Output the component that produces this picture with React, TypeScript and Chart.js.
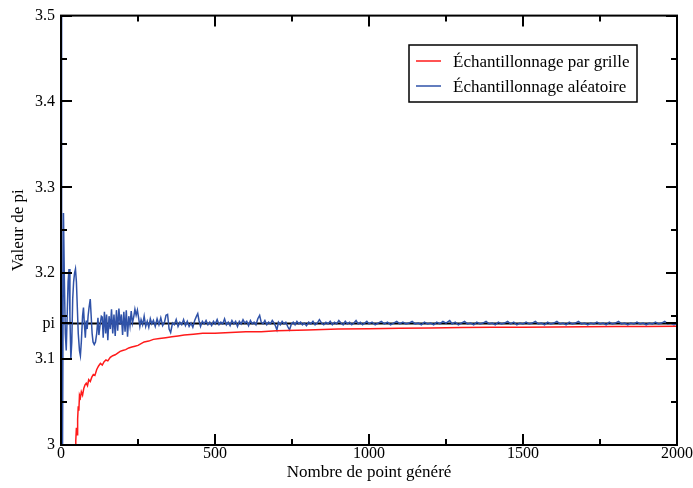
import React, { useEffect, useRef } from 'react';
import { Chart, registerables } from 'chart.js';

Chart.register(...registerables);

const PI = 3.14159265;
const xTicks = [0, 500, 1000, 1500, 2000];
const xMinor = [250, 750, 1250, 1750];
const yTicks = [3, 3.1, PI, 3.2, 3.3, 3.4, 3.5];
const yTickLabels = ['3', '3.1', 'pi', '3.2', '3.3', '3.4', '3.5'];
const yMinor = [3.05, 3.15, 3.25, 3.35, 3.45];
const seriesNames = ['Échantillonnage par grille', 'Échantillonnage aléatoire'];
const xTitle = 'Nombre de point généré';
const yTitle = 'Valeur de pi';

const redN = [46, 48, 50, 52, 54, 56, 58, 60, 63, 66, 70, 74, 78, 82, 86, 90, 95, 100, 105, 110, 116, 122, 128, 134, 140, 146, 152, 160, 168, 176, 184, 192, 200, 210, 220, 230, 240, 250, 260, 270, 285, 300, 320, 340, 360, 380, 400, 430, 460, 500, 550, 600, 650, 700, 800, 900, 1000, 1100, 1200, 1300, 1400, 1500, 1600, 1700, 1800, 1900, 2000];
const redV = [2.99, 3.005, 3.02, 3.012, 3.03, 3.045, 3.04, 3.058, 3.055, 3.062, 3.058, 3.066, 3.07, 3.072, 3.069, 3.076, 3.074, 3.079, 3.082, 3.081, 3.088, 3.092, 3.095, 3.093, 3.097, 3.099, 3.098, 3.102, 3.104, 3.105, 3.107, 3.109, 3.11, 3.111, 3.113, 3.114, 3.115, 3.116, 3.118, 3.12, 3.121, 3.123, 3.124, 3.125, 3.126, 3.127, 3.128, 3.129, 3.13, 3.13, 3.131, 3.132, 3.132, 3.133, 3.134, 3.135, 3.1355, 3.136, 3.1363, 3.1367, 3.137, 3.1372, 3.1375, 3.1377, 3.1379, 3.138, 3.1382];

const blueN = [1, 2, 5, 8, 11, 14, 17, 20, 23, 26, 29, 32, 35, 38, 41, 44, 47, 50, 53, 56, 60, 63, 66, 70, 73, 76, 79, 82, 85, 88, 91, 95, 98, 101, 104, 108, 112, 116, 120, 123, 127, 131, 134, 137, 141, 145, 148, 152, 156, 160, 164, 168, 172, 176, 180, 184, 188, 192, 196, 200, 204, 208, 212, 216, 220, 224, 228, 232, 236, 240, 244, 248, 252, 256, 260, 265, 270, 275, 280, 285, 290, 295, 300, 306, 312, 318, 324, 330, 336, 341, 346, 351, 356, 362, 368, 374, 380, 386, 392, 398, 404, 410, 416, 422, 428, 434, 440, 444, 448, 453, 459, 465, 471, 477, 483, 489, 495, 501, 507, 513, 519, 525, 531, 537, 543, 549, 555, 561, 567, 573, 579, 585, 591, 597, 603, 609, 615, 621, 627, 633, 639, 645, 650, 656, 662, 668, 674, 680, 686, 692, 697, 701, 706, 712, 718, 724, 730, 736, 742, 748, 754, 760, 766, 772, 778, 784, 790, 797, 804, 811, 818, 825, 832, 839, 846, 853, 860, 867, 874, 881, 888, 895, 902, 909, 916, 923, 930, 937, 944, 951, 958, 965, 972, 979, 986, 993, 1000, 1010, 1020, 1030, 1040, 1050, 1060, 1070, 1080, 1090, 1100, 1110, 1120, 1130, 1140, 1150, 1160, 1170, 1180, 1190, 1200, 1210, 1220, 1230, 1240, 1250, 1262, 1270, 1280, 1290, 1300, 1310, 1320, 1330, 1340, 1350, 1360, 1370, 1380, 1390, 1400, 1410, 1420, 1430, 1440, 1450, 1460, 1470, 1480, 1490, 1500, 1510, 1520, 1530, 1540, 1550, 1560, 1570, 1580, 1590, 1600, 1610, 1620, 1630, 1640, 1650, 1660, 1670, 1680, 1690, 1700, 1710, 1720, 1730, 1740, 1750, 1760, 1770, 1780, 1790, 1800, 1810, 1820, 1830, 1840, 1850, 1860, 1870, 1880, 1890, 1900, 1910, 1920, 1930, 1940, 1950, 1960, 1970, 1980, 1990, 2000];
const blueV = [4.0, 2.0, 3.0, 3.27, 3.19, 3.13, 3.11, 3.15, 3.19, 3.205, 3.15, 3.10, 3.12, 3.17, 3.19, 3.2, 3.205, 3.19, 3.16, 3.13, 3.11, 3.104, 3.12, 3.15, 3.16, 3.14, 3.125, 3.145, 3.135, 3.15, 3.16, 3.17, 3.15, 3.13, 3.12, 3.117, 3.12, 3.13, 3.148, 3.128, 3.14, 3.15, 3.149, 3.125, 3.155, 3.13, 3.152, 3.122, 3.15, 3.135, 3.158, 3.13, 3.152, 3.127, 3.157, 3.133, 3.159, 3.14, 3.152, 3.128, 3.155, 3.132, 3.157, 3.126, 3.15, 3.139, 3.156, 3.142, 3.149, 3.158, 3.151, 3.157, 3.148, 3.138, 3.146, 3.14, 3.15, 3.138, 3.144, 3.137, 3.147, 3.141, 3.145, 3.138, 3.147, 3.14, 3.148, 3.139, 3.143, 3.151, 3.152, 3.135, 3.131, 3.142, 3.14, 3.146, 3.138, 3.143, 3.14, 3.146, 3.139, 3.144, 3.138, 3.142, 3.137, 3.145, 3.15, 3.153, 3.145, 3.138, 3.144, 3.141, 3.145, 3.14, 3.143, 3.139, 3.144, 3.141, 3.146, 3.14, 3.143, 3.141, 3.147, 3.14, 3.143, 3.139, 3.145, 3.141, 3.144, 3.138, 3.144, 3.141, 3.146, 3.142, 3.144, 3.139, 3.145, 3.141, 3.143, 3.14, 3.147, 3.151, 3.143, 3.141, 3.145, 3.14, 3.143, 3.141, 3.145, 3.142, 3.138, 3.134, 3.143, 3.14, 3.144, 3.141, 3.143, 3.138, 3.134, 3.141, 3.143, 3.14, 3.144, 3.141, 3.143, 3.14, 3.142, 3.139, 3.143, 3.141, 3.144, 3.14, 3.142, 3.146, 3.142, 3.14, 3.143, 3.141, 3.144, 3.14, 3.143, 3.141, 3.145, 3.142, 3.14, 3.144, 3.141, 3.143, 3.14, 3.142, 3.145, 3.141, 3.143, 3.14, 3.142, 3.144, 3.141, 3.143, 3.14, 3.142, 3.144, 3.141, 3.143, 3.14, 3.142, 3.144, 3.141, 3.143, 3.141, 3.142, 3.144, 3.141, 3.142, 3.14, 3.143, 3.141, 3.142, 3.14, 3.143, 3.141, 3.144, 3.142, 3.145, 3.141, 3.143, 3.14, 3.142, 3.144, 3.141, 3.142, 3.14, 3.143, 3.141, 3.142, 3.144, 3.141, 3.142, 3.14, 3.143, 3.141, 3.142, 3.144, 3.141, 3.143, 3.14, 3.142, 3.141, 3.143, 3.141, 3.142, 3.144, 3.141, 3.142, 3.14, 3.143, 3.141, 3.142, 3.144, 3.141, 3.142, 3.14, 3.143, 3.141, 3.142, 3.144, 3.141, 3.142, 3.14, 3.142, 3.141, 3.143, 3.141, 3.142, 3.14, 3.143, 3.141, 3.142, 3.144, 3.141, 3.142, 3.14, 3.142, 3.141, 3.143, 3.141, 3.142, 3.14, 3.142, 3.141, 3.143, 3.141, 3.142, 3.144, 3.141, 3.142, 3.14, 3.142];

const piN = [0, 2000];
const piV = [PI, PI];

const RED = '#ff1a1a';
const BLUE = '#2f52a8';
const SERIF = '"Liberation Serif", "DejaVu Serif", serif';

const framePlugin = {
  id: 'frameTicks',
  afterDatasetsDraw(chart: any) {
    const { ctx, chartArea, scales } = chart;
    const { left, right, top, bottom } = chartArea;
    const xs = scales.x;
    const ys = scales.y;
    ctx.save();
    ctx.strokeStyle = '#000';
    ctx.lineWidth = 2;
    ctx.strokeRect(left, top, right - left, bottom - top);
    const major = 11;
    const minor = 6;
    ctx.beginPath();
    const xt = (v: number, len: number) => {
      const p = Math.round(xs.getPixelForValue(v));
      ctx.moveTo(p, bottom); ctx.lineTo(p, bottom - len);
      ctx.moveTo(p, top); ctx.lineTo(p, top + len);
    };
    const yt = (v: number, len: number) => {
      const p = Math.round(ys.getPixelForValue(v));
      ctx.moveTo(left, p); ctx.lineTo(left + len, p);
      ctx.moveTo(right, p); ctx.lineTo(right - len, p);
    };
    xTicks.forEach((v) => xt(v, major));
    xMinor.forEach((v) => xt(v, minor));
    yTicks.forEach((v) => yt(v, major));
    yMinor.forEach((v) => yt(v, minor));
    ctx.stroke();
    ctx.restore();
  },
};

const legendPlugin = {
  id: 'insideLegend',
  afterDraw(chart: any) {
    const { ctx } = chart;
    ctx.save();
    const bx = 409, by = 45, bw = 228, bh = 57;
    ctx.fillStyle = '#fff';
    ctx.fillRect(bx, by, bw, bh);
    ctx.strokeStyle = '#000';
    ctx.lineWidth = 1.5;
    ctx.strokeRect(bx, by, bw, bh);
    const colors = [RED, BLUE];
    ctx.font = '17px ' + SERIF;
    ctx.textBaseline = 'middle';
    seriesNames.forEach((name, i) => {
      const y = by + 16 + i * 25;
      ctx.strokeStyle = colors[i];
      ctx.lineWidth = 1.5;
      ctx.beginPath();
      ctx.moveTo(bx + 7, y);
      ctx.lineTo(bx + 32, y);
      ctx.stroke();
      ctx.fillStyle = '#000';
      ctx.fillText(name, bx + 44, y + 1.5);
    });
    ctx.restore();
  },
};

export default function App() {
  const ref = useRef<HTMLCanvasElement>(null);
  useEffect(() => {
    if (!ref.current) return;
    const tickFont = { family: SERIF, size: 16 };
    const titleFont = { family: SERIF, size: 17 };
    const chart = new Chart(ref.current, {
      type: 'line',
      data: {
        datasets: [
          {
            label: seriesNames[0],
            data: redN.map((n, i) => ({ x: n, y: redV[i] })),
            borderColor: RED,
            borderWidth: 1.5,
            pointRadius: 0,
            tension: 0,
          },
          {
            label: seriesNames[1],
            data: blueN.map((n, i) => ({ x: n, y: blueV[i] })),
            borderColor: BLUE,
            borderWidth: 1.5,
            pointRadius: 0,
            tension: 0,
          },
          {
            label: 'pi',
            data: piN.map((n, i) => ({ x: n, y: piV[i] })),
            borderColor: '#000',
            borderWidth: 2,
            pointRadius: 0,
            tension: 0,
          },
        ],
      },
      options: {
        animation: false,
        responsive: false,
        events: [],
        layout: { padding: { top: 14, right: 16, left: 0, bottom: 0 } },
        plugins: { legend: { display: false }, tooltip: { enabled: false } },
        scales: {
          x: {
            type: 'linear',
            min: 0,
            max: 2000,
            afterBuildTicks: (s: any) => { s.ticks = xTicks.map((v) => ({ value: v })); },
            afterFit: (s: any) => { s.height = 43; },
            border: { display: false },
            grid: { display: false, drawTicks: false },
            ticks: { color: '#000', font: tickFont, padding: -1, maxRotation: 0, autoSkip: false, callback: (v: any) => String(v) },
            title: { display: true, text: xTitle, color: '#000', font: titleFont, padding: { top: 5, bottom: 5 } },
          },
          y: {
            type: 'linear',
            min: 3,
            max: 3.5,
            afterBuildTicks: (s: any) => { s.ticks = yTicks.map((v) => ({ value: v })); },
            afterFit: (s: any) => { s.width = 61; },
            border: { display: false },
            grid: { display: false, drawTicks: false },
            ticks: { color: '#000', font: tickFont, padding: 6, autoSkip: false, callback: (_v: any, i: number) => yTickLabels[i] },
            title: { display: true, text: yTitle, color: '#000', font: titleFont, padding: { top: 8, bottom: 8 } },
          },
        },
      } as any,
      plugins: [framePlugin, legendPlugin],
    });
    return () => chart.destroy();
  }, []);
  return (
    <div style={{ position: 'absolute', left: 0, top: 0, width: 693, height: 488, background: '#fff' }}>
      <canvas ref={ref} width={693} height={488} />
    </div>
  );
}
